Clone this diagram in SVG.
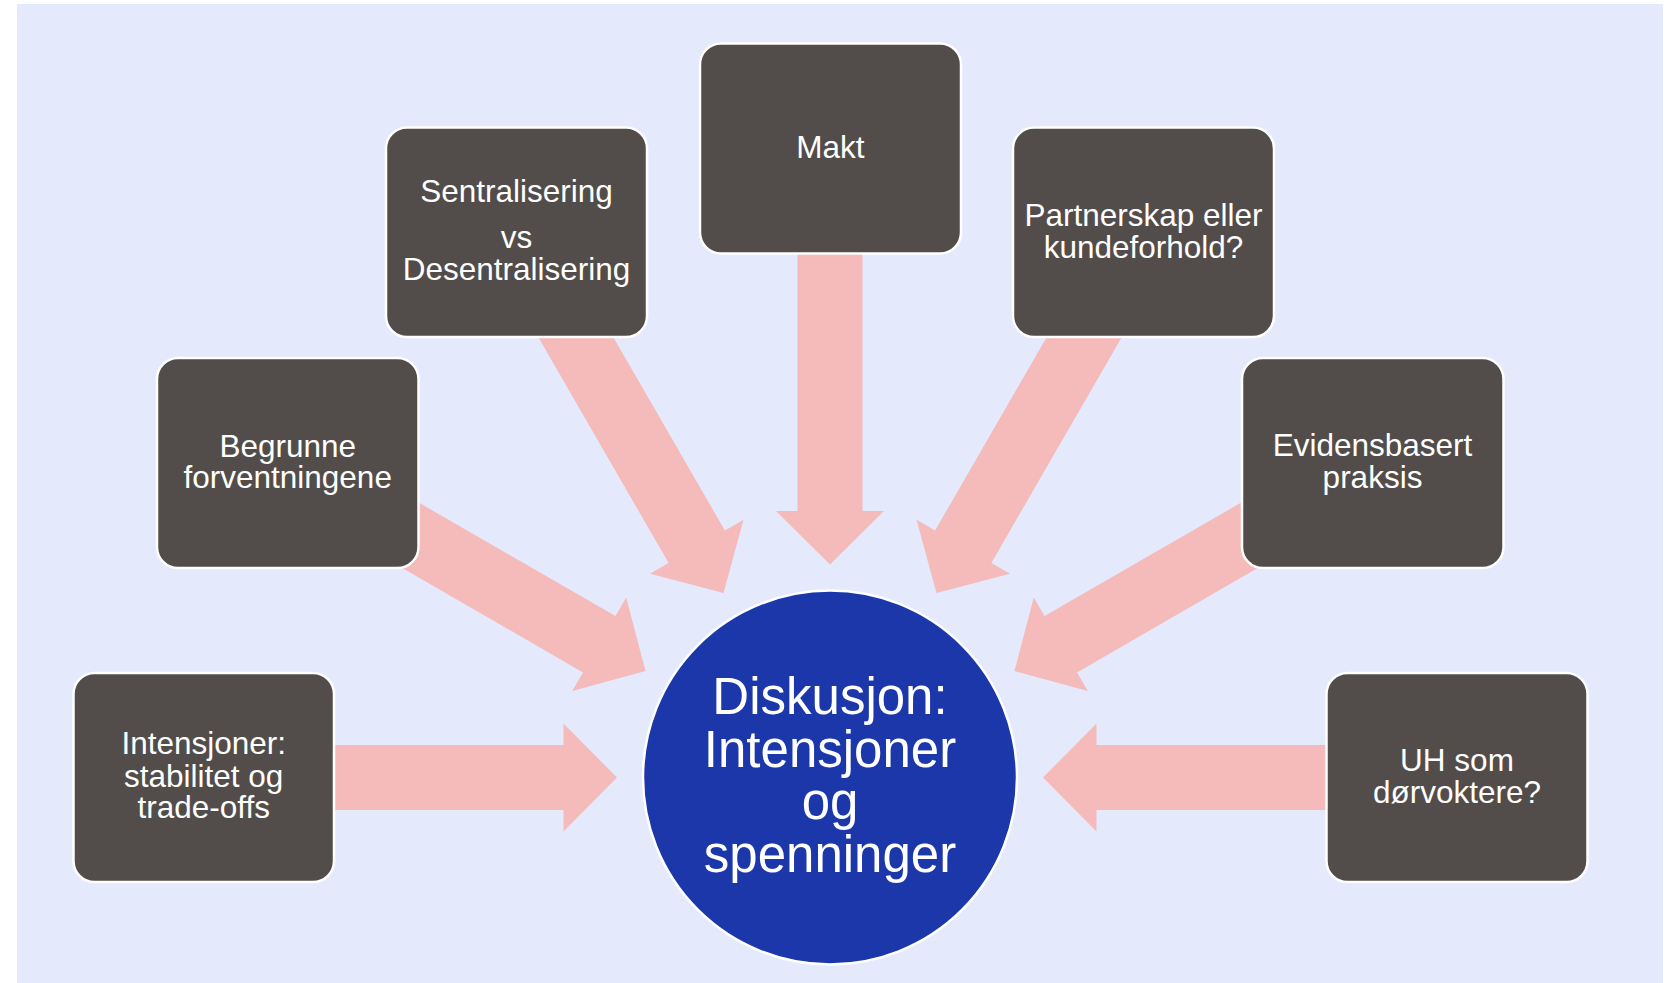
<svg xmlns="http://www.w3.org/2000/svg" xmlns:xlink="http://www.w3.org/1999/xlink" width="1672" height="983" viewBox="0 0 1672 983">
  <style>
    .box { fill: #524D4A; stroke: #FFFFFF; stroke-width: 2.5; }
    .lbl { fill: #FFFFFF; font-family: "Liberation Sans", Arial, sans-serif; font-size: 31.5px; text-anchor: middle; }
    .hub { fill: #1B37AA; stroke: #FFFFFF; stroke-width: 2.5; }
    .hubtxt { fill: #FFFFFF; font-family: "Liberation Sans", Arial, sans-serif; font-size: 51px; text-anchor: middle; }
    .arrow { fill: #F4BBBA; }
  </style>
  <defs>
    <polygon id="arr" points="213,0 266.5,-54 266.5,-32.5 600,-32.5 600,32.5 266.5,32.5 266.5,54"/>
  </defs>
  <rect x="0" y="0" width="1672" height="983" fill="#FFFFFF"/>
  <rect x="17" y="4" width="1646" height="979" fill="#E4EAFC"/>

  <g id="connectors" class="arrow">
    <use xlink:href="#arr" href="#arr" transform="translate(830,777.5) rotate(180)"/>
    <use xlink:href="#arr" href="#arr" transform="translate(830,777.5) rotate(210)"/>
    <use xlink:href="#arr" href="#arr" transform="translate(830,777.5) rotate(240)"/>
    <use xlink:href="#arr" href="#arr" transform="translate(830,777.5) rotate(270)"/>
    <use xlink:href="#arr" href="#arr" transform="translate(830,777.5) rotate(300)"/>
    <use xlink:href="#arr" href="#arr" transform="translate(830,777.5) rotate(330)"/>
    <use xlink:href="#arr" href="#arr" transform="translate(830,777.5) rotate(0)"/>
  </g>

  <g id="hub">
    <circle class="hub" cx="830" cy="777.5" r="187"/>
    <text class="hubtxt" x="830" y="713.5">Diskusjon:</text>
    <text class="hubtxt" x="830" y="766.5">Intensjoner</text>
    <text class="hubtxt" x="830" y="819">og</text>
    <text class="hubtxt" x="830" y="872">spenninger</text>
  </g>

  <g id="node-intensjoner">
    <rect class="box" x="73.5" y="673" width="260.5" height="209" rx="21"/>
    <text class="lbl" x="203.7" y="754.3">Intensjoner:</text>
    <text class="lbl" x="203.7" y="786.7">stabilitet og</text>
    <text class="lbl" x="203.7" y="818.3">trade-offs</text>
  </g>

  <g id="node-begrunne">
    <rect class="box" x="157" y="358" width="261.5" height="210" rx="21"/>
    <text class="lbl" x="287.7" y="456.7">Begrunne</text>
    <text class="lbl" x="287.7" y="488.3">forventningene</text>
  </g>

  <g id="node-sentralisering">
    <rect class="box" x="386" y="127.5" width="261" height="209.5" rx="21"/>
    <text class="lbl" x="516.5" y="201.7">Sentralisering</text>
    <text class="lbl" x="516.5" y="248.3">vs</text>
    <text class="lbl" x="516.5" y="280">Desentralisering</text>
  </g>

  <g id="node-makt">
    <rect class="box" x="700" y="43.5" width="261" height="210" rx="21"/>
    <text class="lbl" x="830.5" y="157.7">Makt</text>
  </g>

  <g id="node-partnerskap">
    <rect class="box" x="1013" y="127.5" width="261" height="209.5" rx="21"/>
    <text class="lbl" x="1143.5" y="226">Partnerskap eller</text>
    <text class="lbl" x="1143.5" y="257.7">kundeforhold?</text>
  </g>

  <g id="node-evidensbasert">
    <rect class="box" x="1242" y="358" width="261.5" height="210" rx="21"/>
    <text class="lbl" x="1372.5" y="456">Evidensbasert</text>
    <text class="lbl" x="1372.5" y="487.7">praksis</text>
  </g>

  <g id="node-uh">
    <rect class="box" x="1326.5" y="673" width="261" height="209" rx="21"/>
    <text class="lbl" x="1457" y="771">UH som</text>
    <text class="lbl" x="1457" y="802.7">dørvoktere?</text>
  </g>
</svg>
